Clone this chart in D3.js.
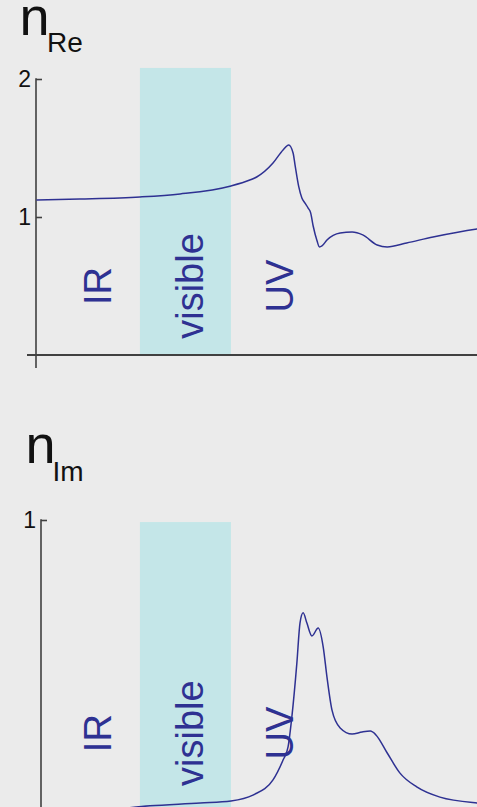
<!DOCTYPE html>
<html>
<head>
<meta charset="utf-8">
<script src="https://cdn.jsdelivr.net/npm/d3@7"></script>
<style>
  html, body { margin: 0; padding: 0; background: #ebebeb; overflow: hidden; }
  svg { display: block; font-family: "Liberation Sans", Arial, Helvetica, sans-serif; }
</style>
</head>
<body>
<svg id="chart" width="477" height="807"></svg>
<script>
// Photon energy (eV) and refractive index, real part
const reEnergy = [0.00, 0.69, 1.65, 2.29, 3.10, 3.40, 3.51, 3.77, 3.93, 4.02, 4.09, 4.12, 4.18, 4.23, 4.28, 4.33, 4.37, 4.41, 4.47, 4.51, 4.55, 4.63, 4.84, 5.03, 5.20, 5.43, 5.59, 5.90, 6.32, 7.02, 7.30];
const reValues = [1.123, 1.130, 1.145, 1.167, 1.225, 1.268, 1.290, 1.391, 1.486, 1.522, 1.464, 1.380, 1.220, 1.138, 1.100, 1.065, 1.030, 0.935, 0.830, 0.783, 0.790, 0.833, 0.884, 0.891, 0.870, 0.797, 0.783, 0.812, 0.855, 0.913, 0.930];

// Photon energy (eV) and refractive index, imaginary part
const imEnergy = [0.00, 1.01, 1.81, 2.61, 3.10, 3.45, 3.77, 3.93, 4.01, 4.07, 4.15, 4.20, 4.25, 4.31, 4.39, 4.49, 4.57, 4.63, 4.71, 4.84, 5.03, 5.19, 5.32, 5.41, 5.59, 5.79, 6.06, 6.43, 7.02, 7.30];
const imValues = [0.003, 0.007, 0.021, 0.031, 0.038, 0.058, 0.110, 0.178, 0.223, 0.325, 0.510, 0.647, 0.682, 0.647, 0.603, 0.630, 0.565, 0.462, 0.349, 0.288, 0.267, 0.274, 0.277, 0.264, 0.202, 0.134, 0.086, 0.051, 0.031, 0.027];

// Spectral regions
const visibleRange = [1.65, 3.10];
const regionNames = ["IR", "visible", "UV"];
const regionLabelEnergy = [1.19, 2.65, 4.09];

const reTicks = [1, 2];
const imTicks = [1];

const lineColor = "#2e3192";
const bandColor = "#c4e6e8";
const axisColor = "#404040";

const svg = d3.select("#chart");

// Shared energy axis for both panels
const x = d3.scaleLinear().domain([0, 7.3]).range([36.4, 36.4 + 7.3 * 62.76]);

const panels = [
  { sub: "Re", energy: reEnergy, values: reValues, ticks: reTicks,
    domain: [0, 2], range: [355, 79], axisX: 36, bandTop: 2.08,
    labelValue: 0.5, titleY: 35, subY: 52, titleX: 19.5, subX: 47, xAxis: true },
  { sub: "Im", energy: imEnergy, values: imValues, ticks: imTicks,
    domain: [0, 1], range: [812, 520], axisX: 41, bandTop: 0.993,
    labelValue: 0.27, titleY: 463, subY: 481, titleX: 25.5, subX: 52.5, xAxis: true }
];

panels.forEach(p => {
  const y = d3.scaleLinear().domain(p.domain).range(p.range);
  const g = svg.append("g");

  // visible band
  g.append("rect")
    .attr("x", x(visibleRange[0]))
    .attr("y", y(p.bandTop))
    .attr("width", x(visibleRange[1]) - x(visibleRange[0]))
    .attr("height", y(0) - y(p.bandTop))
    .attr("fill", bandColor);

  // y axis
  const yAxis = d3.axisLeft(y).tickValues(p.ticks).tickSizeInner(-6).tickSizeOuter(0).tickPadding(5)
    .tickFormat(d3.format("d"));
  const ay = g.append("g").attr("transform", `translate(${p.axisX},0)`).call(yAxis);
  ay.select(".domain").remove();
  ay.selectAll(".tick line").attr("stroke", axisColor).attr("stroke-width", 1.6);
  ay.selectAll(".tick text").attr("fill", "#111").attr("font-size", 23)
    .attr("font-family", "Liberation Sans, Arial, sans-serif");
  g.append("line")
    .attr("x1", p.axisX).attr("x2", p.axisX)
    .attr("y1", y(p.domain[1]) - 0.8).attr("y2", y(0) + 13)
    .attr("stroke", axisColor).attr("stroke-width", 1.6);

  // x axis
  g.append("line")
    .attr("x1", p.axisX - 9).attr("x2", x(7.3))
    .attr("y1", y(0)).attr("y2", y(0))
    .attr("stroke", axisColor).attr("stroke-width", 2.2);

  // curve
  const line = d3.line()
    .x((d, i) => x(p.energy[i]))
    .y(d => y(d))
    .curve(d3.curveMonotoneX);
  g.append("path")
    .datum(p.values)
    .attr("d", line)
    .attr("fill", "none")
    .attr("stroke", lineColor)
    .attr("stroke-width", 1.5);

  // region labels
  regionNames.forEach((name, i) => {
    g.append("text")
      .attr("transform", `translate(${x(regionLabelEnergy[i])},${y(p.labelValue)}) rotate(-90)`)
      .attr("text-anchor", "middle")
      .attr("font-size", 38)
      .attr("fill", lineColor)
      .text(name);
  });

  // panel title n with subscript
  g.append("text").attr("x", p.titleX).attr("y", p.titleY)
    .attr("font-size", 54).attr("fill", "#111").text("n");
  g.append("text").attr("x", p.subX).attr("y", p.subY)
    .attr("font-size", 28).attr("fill", "#111").text(p.sub);
});
</script>
</body>
</html>
